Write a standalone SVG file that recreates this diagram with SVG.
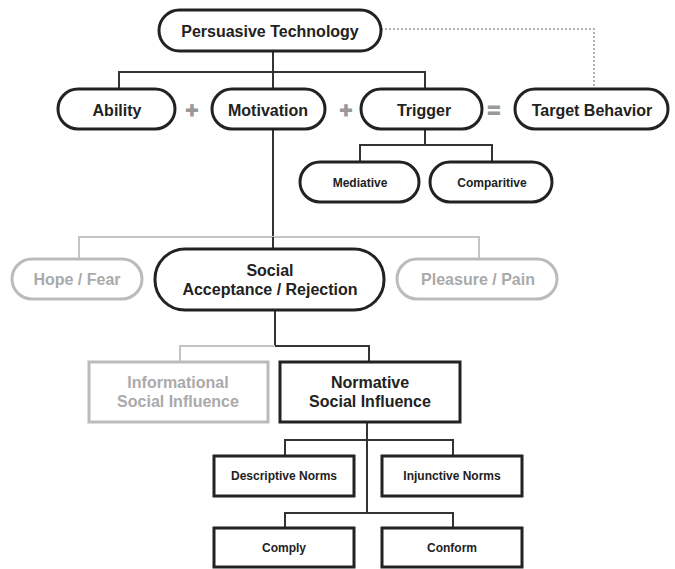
<svg xmlns="http://www.w3.org/2000/svg" width="675" height="569" viewBox="0 0 675 569">
<style>
text{font-family:"Liberation Sans",Arial,sans-serif;font-weight:bold;text-anchor:middle;fill:#222}
.n{fill:#fff;stroke:#222;stroke-width:3}
.g{fill:#fff;stroke:#bbb;stroke-width:3}
.gt{fill:#aaa}
.c{fill:none;stroke:#333;stroke-width:2}
.cg{fill:none;stroke:#c4c4c4;stroke-width:2}
.d{fill:none;stroke:#999;stroke-width:1.5;stroke-dasharray:2 2}
.op{fill:#999;stroke:#999;stroke-width:1;font-size:22px}
.f16{font-size:16px}
.f12{font-size:12px}
</style>
<rect width="675" height="569" fill="#fff"/>
<g id="connectors">
<path class="d" d="M381,29 H594 V89"/>
<path class="c" d="M273,51 V249"/>
<path class="c" d="M119,89 V72 H425 V89"/>
<path class="c" d="M425,129 V145"/>
<path class="c" d="M360,162 V145 H492 V162"/>
<path class="cg" d="M79,259 V237 H479 V259"/>
<path class="c" d="M273,237 V249"/>
<path class="c" d="M275,310 V346 H369 V362"/>
<path class="cg" d="M180,362 V346 H275"/>
<path class="c" d="M367,422 V513"/>
<path class="c" d="M285,456 V440 H453 V456"/>
<path class="c" d="M285,528 V513 H453 V528"/>
</g>
<g id="persuasive-technology">
<rect class="n" x="159" y="10" width="222" height="41" rx="20.5"/>
<text class="f16" x="270" y="37">Persuasive Technology</text>
</g>
<g id="ability">
<rect class="n" x="58" y="89" width="117" height="40" rx="20"/>
<text class="f16" x="117" y="116">Ability</text>
</g>
<g id="plus1"><text class="op" x="192" y="118">+</text></g>
<g id="motivation">
<rect class="n" x="212" y="89" width="113" height="40" rx="20"/>
<text class="f16" x="268" y="116">Motivation</text>
</g>
<g id="plus2"><text class="op" x="346" y="118">+</text></g>
<g id="trigger">
<rect class="n" x="361" y="89" width="121" height="40" rx="20"/>
<text class="f16" x="424" y="116">Trigger</text>
</g>
<g id="equals"><text class="op" x="494" y="118">=</text></g>
<g id="target-behavior">
<rect class="n" x="515" y="89" width="153" height="40" rx="20"/>
<text class="f16" x="592" y="116">Target Behavior</text>
</g>
<g id="mediative">
<rect class="n" x="300" y="162" width="119" height="40" rx="20"/>
<text class="f12" x="360" y="187">Mediative</text>
</g>
<g id="comparitive">
<rect class="n" x="430" y="162" width="122" height="40" rx="20"/>
<text class="f12" x="492" y="187">Comparitive</text>
</g>
<g id="hope-fear">
<rect class="g" x="12" y="259" width="130" height="40" rx="20"/>
<text class="f16 gt" x="77" y="285">Hope / Fear</text>
</g>
<g id="social-acceptance">
<rect class="n" x="155" y="249" width="229" height="61" rx="30"/>
<text class="f16" x="270" y="276">Social</text>
<text class="f16" x="270" y="295">Acceptance / Rejection</text>
</g>
<g id="pleasure-pain">
<rect class="g" x="397" y="259" width="160" height="40" rx="20"/>
<text class="f16 gt" x="478" y="285">Pleasure / Pain</text>
</g>
<g id="informational">
<rect class="g" x="89" y="362" width="179" height="60"/>
<text class="f16 gt" x="178" y="388">Informational</text>
<text class="f16 gt" x="178" y="407">Social Influence</text>
</g>
<g id="normative">
<rect class="n" x="280" y="362" width="180" height="60"/>
<text class="f16" x="370" y="388">Normative</text>
<text class="f16" x="370" y="407">Social Influence</text>
</g>
<g id="descriptive-norms">
<rect class="n" x="214" y="456" width="140" height="40"/>
<text class="f12" x="284" y="480">Descriptive Norms</text>
</g>
<g id="injunctive-norms">
<rect class="n" x="382" y="456" width="140" height="40"/>
<text class="f12" x="452" y="480">Injunctive Norms</text>
</g>
<g id="comply">
<rect class="n" x="214" y="528" width="140" height="39"/>
<text class="f12" x="284" y="552">Comply</text>
</g>
<g id="conform">
<rect class="n" x="382" y="528" width="140" height="39"/>
<text class="f12" x="452" y="552">Conform</text>
</g>
</svg>
